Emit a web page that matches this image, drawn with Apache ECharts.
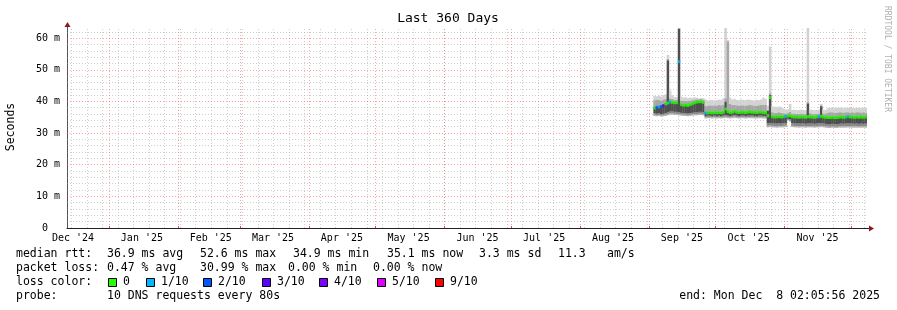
<!DOCTYPE html>
<html><head><meta charset="utf-8">
<script src="https://cdn.jsdelivr.net/npm/echarts@6/dist/echarts.min.js"></script>
<style>html,body{margin:0;padding:0;background:#fff}#c{width:897px;height:310px}</style>
</head><body><div id="c"></div>
<script>
// ---------- data (one value per day, Sep 3 2025 .. Dec 8 2025) ----------
const firstDay = '2025-09-03';
const rangeStart = '2024-12-13T02:05:56Z';
const rangeEnd = '2025-12-08T02:05:56Z';

const median = [
 37.9,38.1,38.3,38.4,38.7,39.2,39.5,39.8,39.7,39.6,
 39.6,52.6,39.0,38.8,38.9,38.7,39.0,39.3,39.6,39.8,
 39.9,39.9,39.7,36.3,36.4,36.5,36.4,36.5,36.4,36.5,
 36.4,36.6,37.6,36.8,36.5,36.6,36.9,36.6,36.5,36.6,
 36.6,36.5,36.6,36.7,36.6,36.6,36.5,36.6,36.6,36.5,
 36.4,35.5,41.2,35.2,35.1,35.1,35.2,35.1,35.2,35.3,
 35.4,35.5,35.2,35.1,35.1,35.0,35.1,35.1,35.0,35.2,
 35.1,35.1,35.0,35.1,35.2,35.3,35.1,35.0,34.9,34.9,
 35.0,34.9,34.9,35.0,35.1,35.0,35.1,35.2,35.1,35.1,
 35.0,35.1,35.0,35.1,35.0,35.1,35.1];

const loss = [
 0,2,1,2,3,0,0,1,0,0,
 0,1,0,0,0,0,0,0,0,0,
 0,0,0,1,0,0,0,0,0,0,
 0,0,0,0,0,0,0,0,0,0,
 0,0,0,0,0,0,0,0,0,0,
 0,0,0,0,0,0,0,0,0,1,
 0,0,0,0,0,0,0,0,0,0,
 0,0,0,0,1,0,0,0,0,0,
 0,0,0,0,0,0,0,1,0,0,
 0,0,0,0,0,0,0];

const smokeP0 = [
 35.4,35.3,35.4,35.2,35.3,35.4,35.6,35.8,35.8,35.7,
 35.7,35.6,35.5,35.4,35.4,35.3,35.4,35.5,35.6,35.6,
 35.7,35.7,35.6,34.6,34.7,34.7,34.6,34.7,34.6,34.7,
 34.6,34.7,34.8,34.7,34.6,34.7,34.8,34.7,34.6,34.7,
 34.7,34.6,34.7,34.7,34.7,34.6,34.6,34.7,34.7,34.6,
 34.6,31.8,31.9,31.8,31.8,31.7,31.8,31.8,31.8,31.9,
 34.0,33.6,31.9,31.8,31.8,31.7,31.8,31.8,31.7,31.8,
 31.8,31.8,31.7,31.8,31.8,31.9,31.8,31.7,31.6,31.6,
 31.7,31.6,31.6,31.7,31.7,31.7,31.7,31.8,31.7,31.7,
 31.7,31.7,31.7,31.7,31.7,31.7,31.7];
const smokeP1 = [
 35.8,35.7,35.8,35.6,35.7,35.8,36.0,36.2,36.2,36.1,
 36.1,36.0,35.9,35.8,35.8,35.7,35.8,35.9,36.0,36.0,
 36.1,36.1,36.0,35.0,35.1,35.1,35.0,35.1,35.0,35.1,
 35.0,35.1,35.2,35.1,35.0,35.1,35.2,35.1,35.0,35.1,
 35.1,35.0,35.1,35.1,35.1,35.0,35.0,35.1,35.1,35.0,
 35.0,32.3,32.4,32.3,32.2,32.2,32.3,32.2,32.3,32.4,
 34.2,33.9,32.3,32.2,32.2,32.2,32.2,32.2,32.1,32.2,
 32.2,32.2,32.1,32.2,32.3,32.3,32.2,32.1,32.1,32.0,
 32.1,32.0,32.0,32.1,32.2,32.1,32.2,32.2,32.2,32.2,
 32.1,32.2,32.1,32.2,32.1,32.2,32.2];
const smokeP2 = [
 36.2,36.1,36.2,36.0,36.1,36.3,36.6,36.8,36.8,36.7,
 36.7,36.6,36.4,36.3,36.3,36.2,36.3,36.4,36.5,36.6,
 36.7,36.7,36.6,35.4,35.5,35.5,35.4,35.5,35.4,35.5,
 35.4,35.5,35.6,35.5,35.4,35.5,35.6,35.5,35.4,35.5,
 35.5,35.4,35.5,35.5,35.5,35.4,35.4,35.5,35.5,35.4,
 35.4,33.1,33.2,33.1,33.0,33.0,33.1,33.0,33.1,33.2,
 34.5,34.3,33.1,33.0,33.0,33.0,33.0,33.0,32.9,33.0,
 33.0,33.0,32.9,33.0,33.1,33.1,33.0,32.9,32.8,32.8,
 32.9,32.8,32.8,32.9,33.0,32.9,33.0,33.0,33.0,33.0,
 32.9,33.0,32.9,33.0,32.9,33.0,33.0];
const smokeP3 = [
 38.2,38.4,38.6,38.7,39.0,39.5,53.0,40.1,40.0,39.9,
 39.9,63.0,39.3,39.1,39.2,39.0,39.3,39.6,39.9,40.1,
 40.2,40.2,40.0,36.6,36.7,36.8,36.7,36.8,36.7,36.8,
 36.7,36.9,40.0,37.2,36.8,36.9,37.2,36.9,36.8,36.9,
 36.9,36.8,36.9,37.0,36.9,36.9,36.8,36.9,36.9,36.8,
 36.7,37.0,42.0,35.5,35.4,35.4,35.5,35.4,35.5,35.6,
 35.7,35.8,35.5,35.4,35.4,35.3,35.4,35.4,35.3,39.4,
 35.4,35.4,35.3,35.4,35.5,38.5,35.4,35.3,35.2,35.2,
 35.3,35.2,35.2,35.3,35.4,35.3,35.4,35.5,35.4,35.4,
 35.3,35.4,35.3,35.4,35.3,35.4,35.4];
const smokeP4 = [
 40.4,40.6,40.5,40.3,40.6,40.8,53.5,41.0,40.8,40.6,
 40.5,63.2,40.3,40.2,40.3,40.1,40.3,40.4,40.6,40.7,
 40.7,40.8,40.6,38.6,38.7,38.8,38.7,38.8,38.7,38.9,
 38.8,39.0,41.0,59.0,39.2,38.9,39.0,38.8,38.7,38.8,
 38.8,38.7,38.8,38.9,38.8,38.7,38.7,38.8,38.9,39.0,
 38.9,37.4,42.6,36.6,36.5,36.4,36.6,36.4,36.3,36.2,
 36.3,36.8,36.2,36.2,36.1,36.1,36.2,36.1,36.0,39.8,
 36.3,36.1,36.0,36.1,36.2,38.8,36.2,36.2,36.5,36.6,
 36.6,36.5,36.5,36.6,36.6,36.5,36.6,36.6,36.5,36.6,
 36.5,36.6,36.6,36.5,36.6,36.5,36.6];
const smokeP5 = [
 41.8,41.6,41.9,41.5,42.0,42.2,54.7,43.4,42.0,41.4,
 41.3,63.2,41.5,41.2,41.3,41.0,41.2,41.1,41.3,41.2,
 41.0,41.1,41.0,40.6,40.3,40.4,40.5,40.3,40.4,40.6,
 40.5,41.0,63.2,59.4,41.2,40.6,40.8,40.5,40.4,40.6,
 40.5,40.4,40.6,40.5,40.4,40.3,40.5,40.4,40.6,41.2,
 40.8,38.6,57.3,38.4,38.3,38.2,38.4,38.2,37.8,37.4,
 37.5,39.2,37.3,37.4,37.2,37.3,37.4,37.3,37.2,63.2,
 37.5,37.3,37.2,37.3,37.4,39.2,37.4,37.3,37.9,38.0,
 38.1,37.9,38.0,38.0,38.1,37.9,38.0,38.0,37.9,38.0,
 37.9,38.0,38.0,37.9,38.0,37.9,38.0];

const monthStarts = ['2024-12-01','2025-01-01','2025-02-01','2025-03-01','2025-04-01','2025-05-01',
  '2025-06-01','2025-07-01','2025-08-01','2025-09-01','2025-10-01','2025-11-01','2025-12-01'];
const monthLabels = ["Dec '24","Jan '25","Feb '25","Mar '25","Apr '25","May '25",
  "Jun '25","Jul '25","Aug '25","Sep '25","Oct '25","Nov '25","Dec '25"];
const firstSunday = '2024-12-15';
const yLabelValues = [0,10,20,30,40,50,60];

const lossLevels = [0,1,2,3,4,5,9];
const lossLegend = ['0','1/10','2/10','3/10','4/10','5/10','9/10'];
const lossColors = ['#26ff00','#00b8ff','#0059ff','#5e00ff','#7e00ff','#dd00ff','#ff0000'];

const rttRow = ['median rtt:','36.9 ms avg','52.6 ms max','34.9 ms min','35.1 ms now','3.3 ms sd','11.3','am/s'];
const lossRow = ['packet loss:','0.47 % avg','30.99 % max','0.00 % min','0.00 % now'];
const probeRow = ['probe:','10 DNS requests every 80s'];
const endText = 'end: Mon Dec  8 02:05:56 2025';

// ---------- build ----------
const FONT = 'DejaVu Sans Mono';
const DAY = 86400000;
const t0 = Date.parse(firstDay + 'T00:00:00Z');
const startTs = Date.parse(rangeStart), endTs = Date.parse(rangeEnd);
const dayMid = median.map((_, i) => t0 + i * DAY + DAY / 2);
const bandColors = ['#b6b6b6', '#878787', '#4e4e4e', '#a6a6a6', '#d2d2d2'];

const monthTs = monthStarts.map(s => Date.parse(s + 'T00:00:00Z'));
const labelTs = [], labelMap = {};
monthTs.forEach((t, i) => {
  const lt = t + 14.8 * DAY;
  if (lt > startTs && lt < endTs) { labelTs.push(lt); labelMap[lt] = monthLabels[i]; }
});
const tickTs = monthTs.filter(t => t > startTs && t < endTs);

// grid lines
const minorCol = 'rgba(140,140,140,0.42)', majorCol = 'rgba(255,70,70,0.5)';
const gl = [];
for (let t = Date.parse(firstSunday + 'T00:00:00Z'); t < endTs; t += 7 * DAY)
  gl.push({ xAxis: t, lineStyle: { color: minorCol, type: [1, 2], width: 1 } });
tickTs.forEach(t => gl.push({ xAxis: t, lineStyle: { color: majorCol, type: [1, 2], width: 1 } }));
for (let v = 2; v <= 62; v += 2) {
  gl.push({ yAxis: v, lineStyle: { color: v % 10 === 0 ? majorCol : minorCol, type: [1, 2], width: 1 } });
}

// smoke: one column per day, bands between successive ping levels
const smokeData = median.map((_, i) => [dayMid[i], smokeP0[i], smokeP1[i], smokeP2[i], smokeP3[i], smokeP4[i], smokeP5[i]]);
function renderSmoke(params, api) {
  const x = api.value(0);
  const w = api.size([DAY, 0])[0];
  const children = [];
  for (let b = 0; b < 5; b++) {
    const lo = api.coord([x, api.value(b + 1)]);
    const hi = api.coord([x, api.value(b + 2)]);
    children.push({
      type: 'rect',
      shape: { x: lo[0] - w / 2 - 0.15, y: hi[1], width: w + 0.3, height: lo[1] - hi[1] },
      style: { fill: bandColors[b] }
    });
  }
  return { type: 'group', children };
}

const series = [
  {
    type: 'custom', renderItem: renderSmoke, silent: true, z: 2, clip: true,
    data: smokeData, encode: { x: 0, y: [1, 2, 3, 4, 5, 6] },
    markLine: { silent: true, symbol: ['none', 'none'], label: { show: false }, z: 1, animation: false, data: gl }
  },
  {
    type: 'scatter', symbol: 'rect', symbolSize: [2.6, 3], silent: true, z: 5,
    data: median.map((v, i) => ({
      value: [dayMid[i], v],
      itemStyle: { color: lossColors[lossLevels.indexOf(loss[i])] }
    }))
  }
];

const chart = echarts.init(document.getElementById('c'), null, { renderer: 'canvas' });

const textStyle = (extra) => Object.assign({ fontFamily: FONT, fontSize: 11.5, fill: '#000', verticalAlign: 'middle' }, extra);
const graphics = [];
graphics.push({ type: 'text', x: 448, y: 19, style: textStyle({ text: 'Last 360 Days', fontSize: 13, align: 'center' }) });
graphics.push({ type: 'text', x: 11, y: 127, rotation: Math.PI / 2, style: textStyle({ text: 'Seconds', align: 'center' }) });
graphics.push({ type: 'text', x: 887, y: 59, rotation: -Math.PI / 2, style: textStyle({ text: 'RRDTOOL / TOBI OETIKER', fontSize: 8, fill: '#b0b0b0', align: 'center' }) });
const rttX = [16, 107, 200, 293, 387, 479, 558, 607];
rttRow.forEach((s, i) => graphics.push({ type: 'text', x: rttX[i], y: 254, style: textStyle({ text: s }) }));
const lossX = [16, 107, 200, 288, 373];
lossRow.forEach((s, i) => graphics.push({ type: 'text', x: lossX[i], y: 268, style: textStyle({ text: s }) }));
graphics.push({ type: 'text', x: 16, y: 282, style: textStyle({ text: 'loss color:' }) });
const swX = [108, 146, 203, 262, 319, 377, 435];
lossLegend.forEach((s, i) => {
  graphics.push({ type: 'rect', shape: { x: swX[i] + 0.5, y: 278.5, width: 8, height: 8 }, style: { fill: lossColors[i], stroke: '#000', lineWidth: 1 } });
  graphics.push({ type: 'text', x: swX[i] + 15, y: 282, style: textStyle({ text: s }) });
});
graphics.push({ type: 'text', x: 16, y: 296, style: textStyle({ text: probeRow[0] }) });
graphics.push({ type: 'text', x: 107, y: 296, style: textStyle({ text: probeRow[1] }) });
graphics.push({ type: 'text', x: 880, y: 296, style: textStyle({ text: endText, align: 'right' }) });

chart.setOption({
  animation: false,
  backgroundColor: '#fff',
  grid: { left: 67, top: 28, width: 800, height: 200, containLabel: false },
  xAxis: {
    type: 'value', min: startTs, max: endTs,
    splitLine: { show: false },
    axisLine: { show: true, onZero: false, lineStyle: { color: '#222', width: 1 } },
    axisTick: { show: true, customValues: tickTs, inside: true, length: 2, lineStyle: { color: '#e04040' } },
    axisLabel: {
      customValues: labelTs, formatter: v => labelMap[v] || '',
      fontFamily: FONT, fontSize: 10, color: '#000', margin: 5, hideOverlap: false
    }
  },
  yAxis: {
    type: 'value', min: 0, max: 63.2, interval: 10,
    splitLine: { show: false },
    axisLine: { show: true, lineStyle: { color: '#555', width: 1 } },
    axisTick: { show: false },
    axisLabel: {
      customValues: yLabelValues,
      formatter: v => v === 0 ? '0  ' : v + ' m',
      fontFamily: FONT, fontSize: 10, color: '#000', margin: 7
    }
  },
  series: series,
  graphic: graphics
});

// axis arrows placed from the axis scales
const pEnd = chart.convertToPixel({ gridIndex: 0 }, [endTs, 0]);
const pTop = chart.convertToPixel({ gridIndex: 0 }, [startTs, 63.2]);
chart.setOption({
  graphic: graphics.concat([
    { type: 'line', shape: { x1: pEnd[0], y1: pEnd[1] + 0.5, x2: pEnd[0] + 4, y2: pEnd[1] + 0.5 }, style: { stroke: '#222', lineWidth: 1 } },
    { type: 'polygon', shape: { points: [[pEnd[0] + 2, pEnd[1] - 2.5], [pEnd[0] + 7, pEnd[1] + 0.5], [pEnd[0] + 2, pEnd[1] + 3.5]] }, style: { fill: '#8b1a1a' } },
    { type: 'line', shape: { x1: pTop[0] + 0.5, y1: pTop[1], x2: pTop[0] + 0.5, y2: pTop[1] - 3 }, style: { stroke: '#555', lineWidth: 1 } },
    { type: 'polygon', shape: { points: [[pTop[0] - 2.5, pTop[1] - 1], [pTop[0] + 0.5, pTop[1] - 6], [pTop[0] + 3.5, pTop[1] - 1]] }, style: { fill: '#8b1a1a' } }
  ])
});
</script></body></html>
